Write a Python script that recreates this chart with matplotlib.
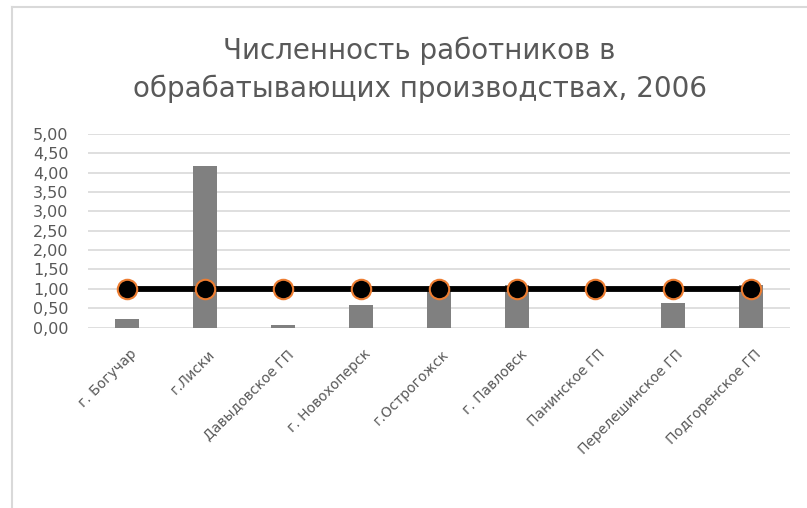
import matplotlib
matplotlib.use('Agg')
import matplotlib.pyplot as plt
import matplotlib.transforms as mtransforms
import numpy as np

# data
categories = ['г. Богучар', 'г.Лиски', 'Давыдовское ГП', 'г. Новохоперск', 'г.Острогожск',
              'г. Павловск', 'Панинское ГП', 'Перелешинское ГП', 'Подгоренское ГП']
bar_values = [0.21, 4.18, 0.06, 0.58, 0.96, 1.10, 0.0, 0.64, 1.10]
line_values = [1.0, 1.0, 1.0, 1.0, 1.0, 1.0, 1.0, 1.0, 1.0]
y_ticks = [0, 0.5, 1, 1.5, 2, 2.5, 3, 3.5, 4, 4.5, 5]

plt.rcParams['font.family'] = ['DejaVu Sans']
grey_txt = '#595959'

fig = plt.figure(figsize=(8.07, 5.08), dpi=100)
W, H = 807, 508
ax = fig.add_axes([88 / W, 1 - 327.5 / H, (790 - 88) / W, (327.5 - 134) / H])

x = np.arange(len(categories))
ax.bar(x, bar_values, width=0.3, color='#808080', zorder=2)
ax.plot(x, line_values, color='black', linewidth=4.2, zorder=3,
        marker='o', markersize=14, markerfacecolor='black',
        markeredgecolor='#ed7d31', markeredgewidth=1.5)

ax.set_xlim(-0.5, len(categories) - 0.5)
ax.set_ylim(0, 5)
ax.set_yticks(y_ticks)
ax.set_yticklabels([f'{v:.2f}'.replace('.', ',') for v in y_ticks])
ax.yaxis.grid(True, color='#d9d9d9', linewidth=1.2, zorder=0)
ax.set_axisbelow(True)
for s in ax.spines.values():
    s.set_visible(False)
ax.tick_params(axis='y', length=0, pad=14, labelsize=11.5, labelcolor=grey_txt)
ax.tick_params(axis='x', length=0, pad=14, labelsize=10, labelcolor=grey_txt)
ax.set_xticks(x)
ax.set_xticklabels(categories, rotation=45, ha='right', rotation_mode='anchor')
shift = mtransforms.ScaledTranslation(3 / 100, 0, fig.dpi_scale_trans)
for lbl in ax.get_xticklabels():
    lbl.set_transform(lbl.get_transform() + shift)

fig.text(0.52, 1 - 51 / H, 'Численность работников в', ha='center', va='center',
         fontsize=20, color=grey_txt)
fig.text(0.52, 1 - 89 / H, 'обрабатывающих производствах, 2006', ha='center', va='center',
         fontsize=20, color=grey_txt)

# chart border
fig.add_artist(plt.Line2D([11.5 / W, 11.5 / W], [0, 1 - 6.5 / H], color='#d9d9d9', linewidth=1.5))
fig.add_artist(plt.Line2D([11.5 / W, 1], [1 - 6.5 / H, 1 - 6.5 / H], color='#d9d9d9', linewidth=1.5))

fig.savefig('out.png', dpi=100, facecolor='white')
